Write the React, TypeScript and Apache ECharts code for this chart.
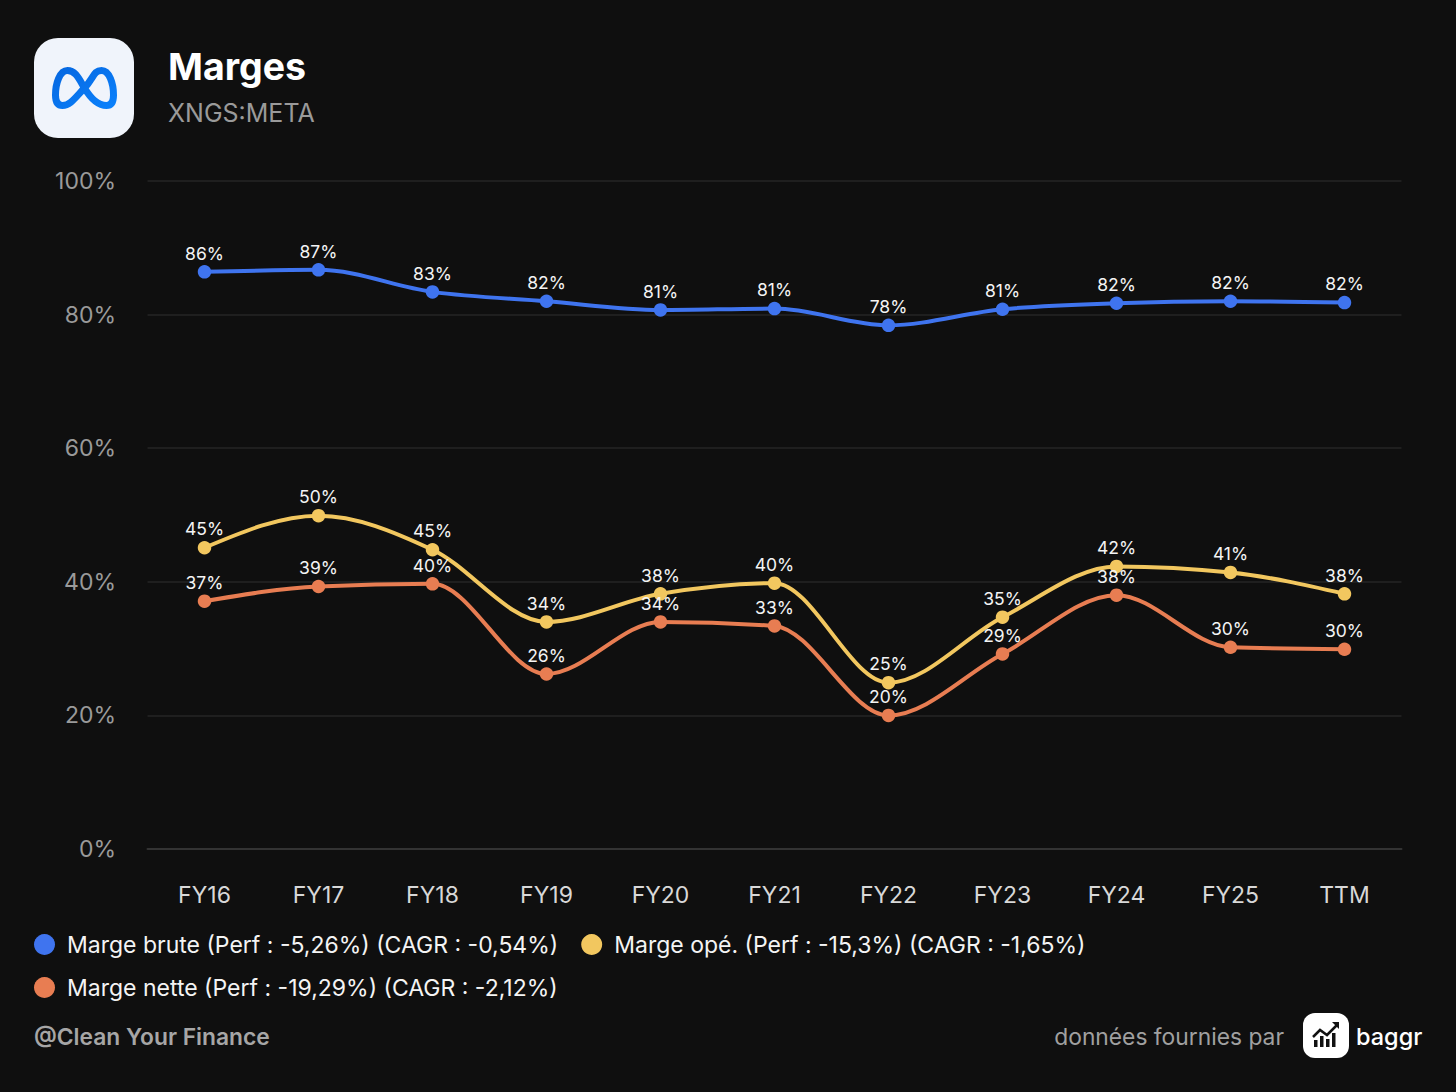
import React, { useEffect, useRef } from "react";
import * as echarts from "echarts";

const categories = ["FY16", "FY17", "FY18", "FY19", "FY20", "FY21", "FY22", "FY23", "FY24", "FY25", "TTM"];
const margeBrute = [86.4, 86.7, 83.4, 82.0, 80.7, 80.9, 78.4, 80.8, 81.7, 82.0, 81.8];
const margeOpe = [45.1, 49.9, 44.8, 34.0, 38.2, 39.8, 24.9, 34.7, 42.3, 41.4, 38.2];
const margeNette = [37.1, 39.3, 39.7, 26.2, 34.0, 33.4, 20.0, 29.2, 38.0, 30.2, 29.9];
const legendBrute = "Marge brute (Perf : -5,26%) (CAGR : -0,54%)";
const legendOpe = "Marge opé. (Perf : -15,3%) (CAGR : -1,65%)";
const legendNette = "Marge nette (Perf : -19,29%) (CAGR : -2,12%)";
const yTicks = { min: 0, max: 100, interval: 20 };

const FONT = "Inter";
const META_D =
  "M84.500 88 C79 79 75.500 70.500 67.500 70.500 C59.500 70.500 55.500 84 55.500 95 C55.500 102 58 105.500 62.500 105.500 C70 105.500 75 98 84.500 88 C94 78 93.500 70.500 101.500 70.500 C109.500 70.500 113.500 84 113.500 95 C113.500 102 111 105.500 106.500 105.500 C99 105.500 91 99 84.500 88 Z";
echarts.graphic.registerShape("metaLogo", echarts.graphic.extendPath(META_D, {}));

function sign(v: number) {
  return v < 0 ? -1 : 1;
}

// Tangents of a monotone cubic curve, in pixel space
function tangents(pts: number[][]) {
  const n = pts.length;
  const h: number[] = [];
  const s: number[] = [];
  for (let i = 0; i < n - 1; i++) {
    h.push(pts[i + 1][0] - pts[i][0]);
    s.push((pts[i + 1][1] - pts[i][1]) / h[i]);
  }
  const t: number[] = new Array(n).fill(0);
  for (let i = 1; i < n - 1; i++) {
    const p = (s[i - 1] * h[i] + s[i] * h[i - 1]) / (h[i - 1] + h[i]);
    t[i] =
      (sign(s[i - 1]) + sign(s[i])) *
      Math.min(Math.abs(s[i - 1]), Math.abs(s[i]), 0.5 * Math.abs(p)) || 0;
  }
  t[0] = (3 * s[0] - t[1]) / 2;
  t[n - 1] = (3 * s[n - 2] - t[n - 2]) / 2;
  return t;
}

function curveSeries(values: number[], color: string) {
  return {
    type: "custom",
    silent: true,
    z: 2,
    data: values.map((v, i) => [i, v]),
    encode: { x: 0, y: 1 },
    renderItem: (params: any, api: any) => {
      const i = params.dataIndex;
      if (i >= values.length - 1) return { type: "group", children: [] };
      const pts = values.map((v, k) => api.coord([k, v]));
      const t = tangents(pts);
      const d = (pts[i + 1][0] - pts[i][0]) / 3;
      return {
        type: "bezierCurve",
        shape: {
          x1: pts[i][0],
          y1: pts[i][1],
          cpx1: pts[i][0] + d,
          cpy1: pts[i][1] + d * t[i],
          cpx2: pts[i + 1][0] - d,
          cpy2: pts[i + 1][1] - d * t[i + 1],
          x2: pts[i + 1][0],
          y2: pts[i + 1][1],
        },
        style: { fill: "none", stroke: color, lineWidth: 4 },
      };
    },
  };
}

function pointSeries(name: string, data: number[], color: string) {
  return {
    name,
    type: "line",
    z: 3,
    data,
    symbol: "circle",
    symbolSize: 13.5,
    showSymbol: true,
    lineStyle: { color, width: 0, opacity: 0 },
    itemStyle: { color, borderWidth: 0 },
    label: {
      show: true,
      position: "top",
      distance: 3,
      color: "#f4f4f4",
      fontFamily: FONT,
      fontSize: 17.5,
      formatter: (p: any) => `${Math.round(p.value)}%`,
    },
  };
}

export default function App() {
  const ref = useRef<HTMLDivElement>(null);
  useEffect(() => {
    const chart = echarts.init(ref.current!, undefined, { renderer: "svg" });
    chart.setOption({
      animation: false,
      backgroundColor: "#0f0f0f",
      textStyle: { fontFamily: FONT },
      title: {
        text: "Marges",
        subtext: "XNGS:META",
        left: 168,
        top: 42,
        padding: 0,
        itemGap: 8,
        textStyle: { color: "#ffffff", fontFamily: FONT, fontSize: 37.5, fontWeight: 700, lineHeight: 48 },
        subtextStyle: { color: "#9a9a9a", fontFamily: FONT, fontSize: 25, lineHeight: 30 },
      },
      grid: { left: 147.5, right: 54.5, top: 181, height: 668, containLabel: false },
      xAxis: {
        type: "category",
        data: categories,
        boundaryGap: true,
        axisTick: { show: false },
        axisLine: { show: true, lineStyle: { color: "#333333", width: 2 } },
        axisLabel: { color: "#d8d8d8", fontFamily: FONT, fontSize: 23, margin: 34, interval: 0 },
      },
      yAxis: {
        type: "value",
        min: yTicks.min,
        max: yTicks.max,
        interval: yTicks.interval,
        axisLine: { show: false },
        axisTick: { show: false },
        axisLabel: {
          color: "#9a9a9a",
          fontFamily: FONT,
          fontSize: 23,
          margin: 31.5,
          formatter: "{value}%",
        },
        splitLine: { lineStyle: { color: "#1f1f1f", width: 2 } },
      },
      legend: {
        left: 34,
        top: 933,
        width: 1070,
        padding: 0,
        icon: "circle",
        itemWidth: 21,
        itemHeight: 21,
        itemGap: 20,
        selectedMode: false,
        data: [legendBrute, legendOpe, legendNette],
        textStyle: {
          color: "#f4f4f4",
          fontFamily: FONT,
          fontSize: 23,
          lineHeight: 20,
          padding: [0, 3, 0, 7],
        },
      },
      series: [
        curveSeries(margeBrute, "#3f74ef"),
        curveSeries(margeOpe, "#f2c75f"),
        curveSeries(margeNette, "#e87d52"),
        pointSeries(legendBrute, margeBrute, "#3f74ef"),
        pointSeries(legendOpe, margeOpe, "#f2c75f"),
        pointSeries(legendNette, margeNette, "#e87d52"),
      ],
      graphic: [
        { type: "rect", shape: { x: 34, y: 38, width: 100, height: 100, r: 24 }, style: { fill: "#f0f4fb" } },
        {
          type: "metaLogo",
          style: {
            fill: "none",
            stroke: new echarts.graphic.LinearGradient(0, 0, 1, 1, [
              { offset: 0, color: "#0668e1" },
              { offset: 1, color: "#0a80fb" },
            ]),
            lineWidth: 7,
          },
        },
        {
          type: "text",
          x: 34,
          y: 1036,
          style: { text: "@Clean Your Finance", fill: "#a6a6a6", font: `600 22.800px ${FONT}`, verticalAlign: "middle" },
        },
        {
          type: "text",
          x: 1284,
          y: 1036,
          style: { text: "données fournies par", fill: "#a0a0a0", font: `400 22.800px ${FONT}`, align: "right", verticalAlign: "middle" },
        },
        { type: "rect", shape: { x: 1303, y: 1013, width: 46, height: 45, r: 12 }, style: { fill: "#ffffff" } },
        { type: "rect", shape: { x: 1314, y: 1040, width: 3.500, height: 7 }, style: { fill: "#111111" } },
        { type: "rect", shape: { x: 1320, y: 1036, width: 3.500, height: 11 }, style: { fill: "#111111" } },
        { type: "rect", shape: { x: 1326, y: 1039, width: 3.500, height: 8 }, style: { fill: "#111111" } },
        { type: "rect", shape: { x: 1332, y: 1033, width: 3.500, height: 14 }, style: { fill: "#111111" } },
        {
          type: "polyline",
          shape: { points: [[1313, 1037], [1320, 1030], [1327, 1035], [1338, 1024]] },
          style: { fill: "none", stroke: "#111111", lineWidth: 2.500 },
        },
        { type: "polygon", shape: { points: [[1332, 1022], [1339, 1022], [1339, 1029]] }, style: { fill: "#111111" } },
        {
          type: "text",
          x: 1356,
          y: 1036,
          style: { text: "baggr", fill: "#ffffff", font: `500 23.500px ${FONT}`, verticalAlign: "middle" },
        },
      ],
    });
    return () => chart.dispose();
  }, []);
  return <div ref={ref} style={{ position: "absolute", left: 0, top: 0, width: 1456, height: 1092 }} />;
}
